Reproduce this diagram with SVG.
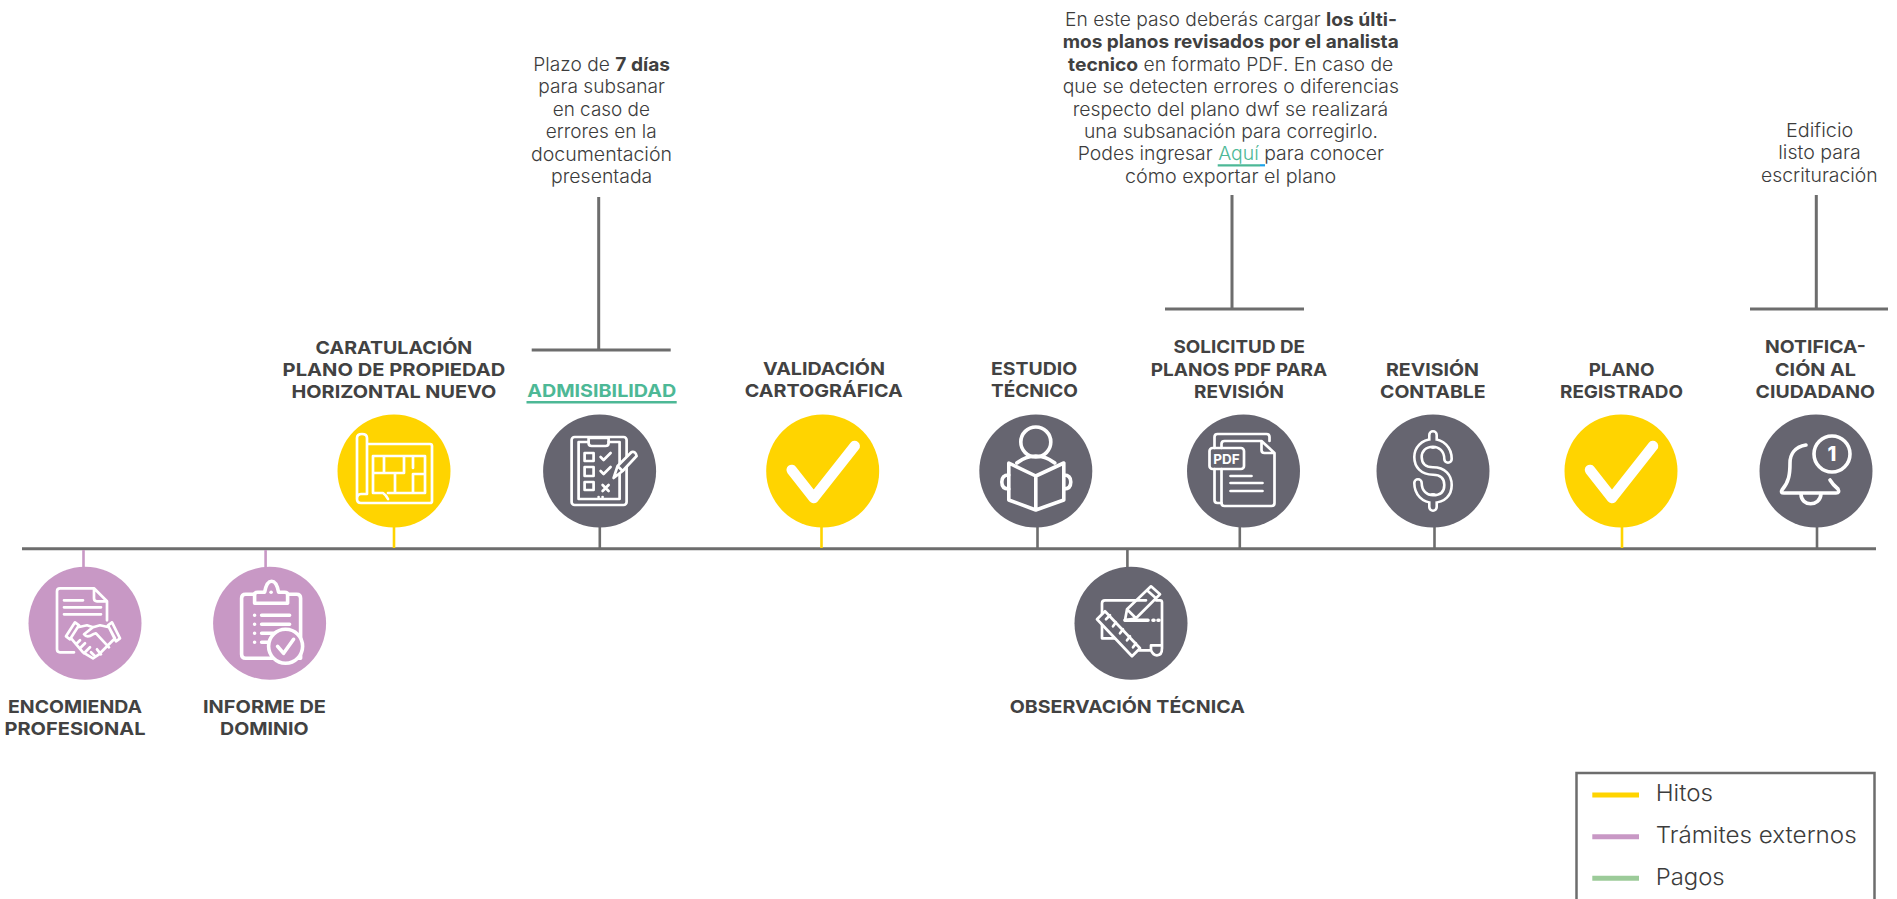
<svg xmlns="http://www.w3.org/2000/svg" width="1897" height="899" viewBox="0 0 1897 899">
<style>
text{font-family:"Inter","Liberation Sans",sans-serif;fill:#424242}
.h{font-size:18px;font-weight:700}
.b{font-size:18.5px;font-weight:300;fill:#3c3c3c}
.b tspan.s{font-weight:700;fill:#404040}
.l{font-size:23px;font-weight:300;fill:#3c3c3c}
.g{fill:#666570}.y{fill:#FFD400}.p{fill:#C898C5}
.i{fill:none;stroke:#fff;stroke-width:2.7;stroke-linecap:round;stroke-linejoin:round}
.t{stroke-width:3.6}
.c{fill:none;stroke:#fff;stroke-width:10.5;stroke-linecap:round;stroke-linejoin:round}
.ln{stroke:#6d6d6d;stroke-width:3;fill:none}
.sg{stroke:#6d6d6d;stroke-width:2.6}.sy{stroke:#FFD400;stroke-width:2.6}.sp{stroke:#C898C5;stroke-width:2.6}
</style>
<defs>
<path id="chk" class="c" d="M-31-1L-9 27L32-25"/>
<path id="dollar" d="M15-12C15-22 8-28 0-28C-10-28-15-21-15-14C-15-6-10 0 0 0C10 0 15 6 15 14C15 22 10 28 0 28C-8 28-15 22-15 12"/>
</defs>
<g id="connectors">
<path class="ln" d="M22 548.7H1876"/>
<path class="sg" d="M599.8 527V548M1037.5 527V548M1239.8 527V548M1434.5 527V548M1817 527V548M1127.4 550V568"/>
<path class="sy" d="M394 527V548M821.5 527V548M1622 527V548"/>
<path class="sp" d="M83.5 550V568M265.6 550V568"/>
<path class="ln" d="M598.7 197V350M531.7 350H670.7M1232 195V309M1165 309H1304M1816.3 195V309M1750 309H1888"/>
</g>
<g id="note-admisibilidad">
<text class="b" x="533.3" y="71" textLength="136.7" lengthAdjust="spacingAndGlyphs">Plazo de <tspan class="s">7 días</tspan></text>
<text class="b" x="538.3" y="93.4" textLength="126.7" lengthAdjust="spacingAndGlyphs">para subsanar</text>
<text class="b" x="552.7" y="115.8" textLength="97.3" lengthAdjust="spacingAndGlyphs">en caso de</text>
<text class="b" x="545.7" y="138.2" textLength="111" lengthAdjust="spacingAndGlyphs">errores en la</text>
<text class="b" x="531" y="160.6" textLength="141" lengthAdjust="spacingAndGlyphs">documentación</text>
<text class="b" x="551" y="183" textLength="101.3" lengthAdjust="spacingAndGlyphs">presentada</text>
</g>
<g id="note-solicitud">
<text class="b" x="1065" y="26" textLength="332" lengthAdjust="spacingAndGlyphs">En este paso deberás cargar <tspan class="s">los últi-</tspan></text>
<text class="b" x="1062.7" y="48.4" textLength="336" lengthAdjust="spacingAndGlyphs"><tspan class="s">mos planos revisados por el analista</tspan></text>
<text class="b" x="1068" y="70.8" textLength="325.3" lengthAdjust="spacingAndGlyphs"><tspan class="s">tecnico</tspan> en formato PDF. En caso de</text>
<text class="b" x="1062.7" y="93.2" textLength="336.3" lengthAdjust="spacingAndGlyphs">que se detecten errores o diferencias</text>
<text class="b" x="1072.7" y="115.6" textLength="315.6" lengthAdjust="spacingAndGlyphs">respecto del plano dwf se realizará</text>
<text class="b" x="1084" y="138" textLength="294" lengthAdjust="spacingAndGlyphs">una subsanación para corregirlo.</text>
<text class="b" x="1077.7" y="160.4" textLength="306.3" lengthAdjust="spacingAndGlyphs">Podes ingresar <tspan style="fill:#4DB896">Aquí </tspan>para conocer</text>
<text class="b" x="1125" y="182.8" textLength="211.3" lengthAdjust="spacingAndGlyphs">cómo exportar el plano</text>
<path d="M1217.7 165.3H1260" stroke="#4DB896" stroke-width="2.2"/>
<path d="M1260 165.3H1265" stroke="#1CA3E8" stroke-width="2.2"/>
</g>
<g id="note-notificacion">
<text class="b" x="1786" y="137" textLength="67.3" lengthAdjust="spacingAndGlyphs">Edificio</text>
<text class="b" x="1778.3" y="159.4" textLength="82.4" lengthAdjust="spacingAndGlyphs">listo para</text>
<text class="b" x="1761" y="181.8" textLength="116.7" lengthAdjust="spacingAndGlyphs">escrituración</text>
</g>
<g id="node-encomienda">
<circle class="p" cx="85" cy="623.3" r="56.5"/>
<g transform="translate(85 623.3)">
<path class="i" d="M22-3V-22L9-35H-25Q-28-35-28-32V26Q-28 29-25 29H-11M9-35V-25Q9-22 12-22H22"/>
<path class="i" d="M-21-23H-2M-21-16H16M-21-9H16"/>
<path class="i" d="M-19 13L-10-1L-6 2L-15 16ZM35 15L27-1L23 2L31 18ZM-7 4L2 2L8 4L15 2L24 4L30 15L14 31L8 35L-2 29L-13 16M8 4L-1 11Q2 15 8 11L11 10L24 24M-9 21L-5 17M-5 25L0 20M-1 30L5 24M12 26L16 31M6 29L10 33"/>
</g>
<text class="h" x="8" y="713.3" textLength="134" lengthAdjust="spacingAndGlyphs">ENCOMIENDA</text>
<text class="h" x="4.5" y="735" textLength="141" lengthAdjust="spacingAndGlyphs">PROFESIONAL</text>
</g>
<g id="node-informe">
<circle class="p" cx="269.6" cy="623.3" r="56.5"/>
<g transform="translate(269.6 623.3)">
<path class="i t" d="M-15-29H-24Q-28-29-28-25V31Q-28 35-24 35H31V-25Q31-29 27-29H18"/>
<path class="i t" d="M-15-20V-29Q-15-31-12-31H-5Q-3-42 2-42Q7-42 9-31H15Q18-31 18-29V-20Z"/>
<circle cx="1.500" cy="-31" r="1.800" fill="#fff"/>
<path class="i t" d="M-8-8H20M-8 1H20M-8 10H20M-8 19H3" stroke-linecap="butt"/>
<path class="i t" d="M-15-8H-15M-15 1H-15M-15 10H-15M-15 19H-15"/>
<circle class="p" cx="16" cy="23" r="17"/>
<circle class="i t" cx="16" cy="23" r="17"/>
<path class="i t" d="M8 23L14 30L24 16"/>
</g>
<text class="h" x="203" y="713.3" textLength="123" lengthAdjust="spacingAndGlyphs">INFORME DE</text>
<text class="h" x="220" y="735" textLength="88.500" lengthAdjust="spacingAndGlyphs">DOMINIO</text>
</g>
<g id="node-caratulacion">
<circle class="y" cx="394" cy="471" r="56.5"/>
<g transform="translate(394 471)">
<path class="i" d="M-27-27H36Q38-27 38-25V30Q38 32 36 32H-33Q-37 32-37 28V-33Q-37-37-32-37Q-27-37-27-33V23H-33Q-37 23-37 28"/>
<path class="i" d="M-21 22V-15H31V22H-6M-21-15V2H-10V-15M-10 2H10V-15M19-15V-3M19 3H31M19 3V22M1 2V22M-21 22H-11Q-8 24-6 28"/>
</g>
<text class="h" x="315.600" y="353.500" textLength="156.700" lengthAdjust="spacingAndGlyphs">CARATULACIÓN</text>
<text class="h" x="282.600" y="375.800" textLength="222.800" lengthAdjust="spacingAndGlyphs">PLANO DE PROPIEDAD</text>
<text class="h" x="291.500" y="398" textLength="204.900" lengthAdjust="spacingAndGlyphs">HORIZONTAL NUEVO</text>
</g>
<g id="node-admisibilidad">
<circle class="g" cx="599.6" cy="471" r="56.5"/>
<g transform="translate(599.6 471)">
<rect class="i" x="-28" y="-34" width="55" height="68" rx="3"/>
<path class="i" d="M-11-29H-21V28H20V-29H9"/>
<path class="i" d="M-11-33H9V-28Q9-25 6-25H-8Q-11-25-11-28Z"/>
<path class="i" d="M-15-18H-6V-10H-15ZM-15-4H-6V5H-15ZM-15 11H-6V19H-15Z"/>
<path class="i" d="M1-14L4-11L11-18M1 0L4 3L11-4M3 14L9 20M9 14L3 20"/>
<path d="M14 7L19-7L33-21Q37-19 37-15L23 0Z" fill="#666570"/>
<path class="i" d="M14 7L18-5L32-19Q36-20 37-15L23 0ZM18-5L23 0"/>
<path class="i" d="M-1 26H-1M3 26H3"/>
</g>
<text class="h" x="527.200" y="396.500" textLength="149.100" lengthAdjust="spacingAndGlyphs" style="fill:#4DB896">ADMISIBILIDAD</text>
<path d="M526.500 402.200H676.700" stroke="#4DB896" stroke-width="2.600"/>
</g>
<g id="node-validacion">
<circle class="y" cx="822.700" cy="471" r="56.500"/>
<use href="#chk" x="822.700" y="471"/>
<text class="h" x="763" y="375" textLength="122" lengthAdjust="spacingAndGlyphs">VALIDACIÓN</text>
<text class="h" x="744.800" y="397" textLength="157.900" lengthAdjust="spacingAndGlyphs">CARTOGRÁFICA</text>
</g>
<g id="node-estudio">
<circle class="g" cx="1035.800" cy="471" r="56.500"/>
<g transform="translate(1035.800 471)">
<circle class="i t" cx="0" cy="-29" r="15"/>
<path class="i t" d="M-19-8Q-10-15 0-15Q10-15 19-8"/>
<path class="i t" d="M-27-8L0 5L28-8V29L0 39L-27 29ZM0 5V39"/>
<path class="i t" d="M-27 4Q-34 4-34 11Q-34 18-27 18M28 4Q35 4 35 11Q35 18 28 18"/>
</g>
<text class="h" x="991" y="375" textLength="86.300" lengthAdjust="spacingAndGlyphs">ESTUDIO</text>
<text class="h" x="991" y="397" textLength="87" lengthAdjust="spacingAndGlyphs">TÉCNICO</text>
</g>
<g id="node-observacion">
<circle class="g" cx="1131" cy="623.300" r="56.500"/>
<g transform="translate(1131 623.300)">
<path class="i" d="M-29-5V-20Q-29-23-26-23H15M25-23H29Q31-23 31-21V25M-29-5V15L-15 15M8 27H20M20 27Q22 32 26 32Q31 32 31 25M20 27V22H31"/>
<path class="i t" d="M-6-3H17M22-3H23M27-3H28"/>
<path class="i" d="M-6-3L-4-14L20-37L29-29L5-5ZM-4-14L5-5M16-33L25-25"/>
<path d="M-34-4L-26-12L9 25L1 33Z" fill="#666570"/>
<path class="i" d="M-34-4L-26-12L9 25L1 33ZM-25-4L-21-8M-18 3L-15-1M-11 10L-8 6M-4 17L-1 13M2 24L5 20"/>
</g>
<text class="h" x="1009.700" y="712.700" textLength="235.100" lengthAdjust="spacingAndGlyphs">OBSERVACIÓN TÉCNICA</text>
</g>
<g id="node-solicitud">
<circle class="g" cx="1243.500" cy="471" r="56.500"/>
<g transform="translate(1243.500 471)">
<path class="i" d="M-29-2V29Q-29 32-26 32H-22M-29-23V-34Q-29-37-26-37H23Q26-37 26-34V-30"/>
<path class="i" d="M-22-2V32Q-22 35-19 35H28Q31 35 31 32V-18L18-30H-19Q-22-30-22-27V-23M18-30V-21Q18-18 21-18H31"/>
<rect class="i" x="-34" y="-23" width="34.500" height="21" rx="3"/>
<text x="-17" y="-7.500" text-anchor="middle" style="font-size:13.500px;font-weight:700;fill:#fff">PDF</text>
<path class="i" d="M-13 5H8M-13 12H19M-13 20H19"/>
</g>
<text class="h" x="1173.500" y="353.300" textLength="131.500" lengthAdjust="spacingAndGlyphs">SOLICITUD DE</text>
<text class="h" x="1150.700" y="375.700" textLength="176.600" lengthAdjust="spacingAndGlyphs">PLANOS PDF PARA</text>
<text class="h" x="1194" y="397.700" textLength="90" lengthAdjust="spacingAndGlyphs">REVISIÓN</text>
</g>
<g id="node-revision">
<circle class="g" cx="1433" cy="471" r="56.500"/>
<g transform="translate(1433 471)" fill="none" stroke-linecap="round">
<path stroke="#fff" stroke-width="10" d="M0-36V-27M0 27V36"/>
<use href="#dollar" stroke="#fff" stroke-width="10"/>
<path stroke="#666570" stroke-width="4.800" d="M0-36V-30M0 30V36"/>
<use href="#dollar" stroke="#666570" stroke-width="4.800"/>
</g>
<text class="h" x="1386" y="376.300" textLength="93" lengthAdjust="spacingAndGlyphs">REVISIÓN</text>
<text class="h" x="1380" y="398.300" textLength="105.600" lengthAdjust="spacingAndGlyphs">CONTABLE</text>
</g>
<g id="node-plano">
<circle class="y" cx="1621" cy="471" r="56.500"/>
<use href="#chk" x="1621" y="471"/>
<text class="h" x="1588.700" y="376.300" textLength="65.700" lengthAdjust="spacingAndGlyphs">PLANO</text>
<text class="h" x="1560" y="398.300" textLength="123" lengthAdjust="spacingAndGlyphs">REGISTRADO</text>
</g>
<g id="node-notificacion">
<circle class="g" cx="1816" cy="471" r="56.500"/>
<g transform="translate(1816 471)">
<circle class="i t" cx="16" cy="-17" r="18"/>
<text x="16" y="-10" text-anchor="middle" style="font-size:20px;font-weight:800;fill:#fff">1</text>
<path class="i t" d="M-10-26C-22-24-26-16-26-8C-26 3-27 11-34 19Q-36 22-32 22H20Q24 22 22 18Q17 14 14 9"/>
<path class="i t" d="M-15 23C-15 36 4 36 5 23"/>
</g>
<text class="h" x="1765" y="353.300" textLength="100.800" lengthAdjust="spacingAndGlyphs">NOTIFICA-</text>
<text class="h" x="1775" y="375.700" textLength="81" lengthAdjust="spacingAndGlyphs">CIÓN AL</text>
<text class="h" x="1755.600" y="398" textLength="119.400" lengthAdjust="spacingAndGlyphs">CIUDADANO</text>
</g>
<g id="legend">
<rect x="1576.500" y="773" width="298" height="128" fill="#fff" stroke="#6d6d6d" stroke-width="2.500"/>
<path d="M1592.300 795H1639" stroke="#FFD400" stroke-width="5"/>
<path d="M1592.300 836.700H1639" stroke="#C898C5" stroke-width="5"/>
<path d="M1592.300 878.300H1639" stroke="#9CCB99" stroke-width="5"/>
<text class="l" x="1655.700" y="801" textLength="57.300" lengthAdjust="spacingAndGlyphs">Hitos</text>
<text class="l" x="1655.700" y="843.300" textLength="201" lengthAdjust="spacingAndGlyphs">Trámites externos</text>
<text class="l" x="1655.700" y="885" textLength="69" lengthAdjust="spacingAndGlyphs">Pagos</text>
</g>
</svg>
